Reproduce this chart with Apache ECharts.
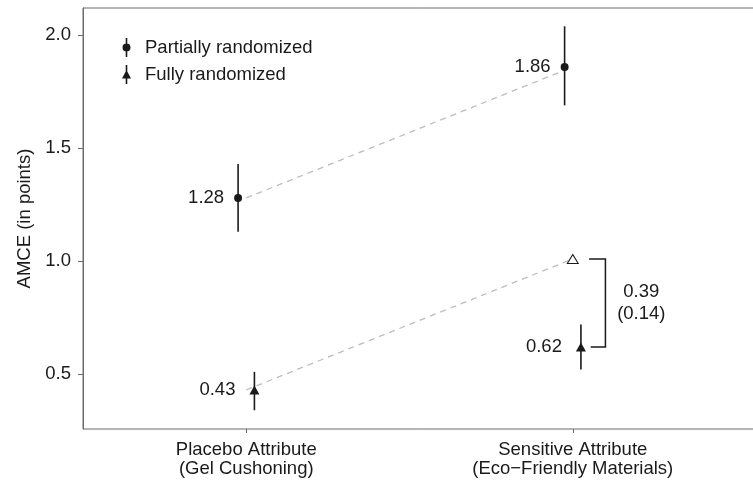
<!DOCTYPE html>
<html>
<head>
<meta charset="utf-8">
<script src="https://cdn.jsdelivr.net/npm/echarts@6/dist/echarts.min.js"></script>
<style>
  html, body { margin: 0; padding: 0; background: #fff; }
  #chart { width: 753px; height: 484px; }
</style>
</head>
<body>
<div id="chart"></div>
<script>
// data
var categories = ['Placebo Attribute\n(Gel Cushoning)', 'Sensitive Attribute\n(Eco\u2212Friendly Materials)'];
var partialEst = [1.28, 1.86];
var partialLo = [1.13, 1.69];
var partialHi = [1.43, 2.04];
var fullEst = [0.43, 0.62];
var fullLo = [0.34, 0.52];
var fullHi = [0.51, 0.72];
var counterfactual = [1.01];   // fully randomized + difference
var diffEst = '0.39';
var diffSE = '(0.14)';
var yTicks = [0.5, 1.0, 1.5, 2.0];

var FONT = "'Liberation Sans', Arial, Helvetica, sans-serif";
var FS = 18.5;
var INK = '#1a1a1a';
var AXIS = '#6b6b6b';
var dodge = 0.025;

var chartDom = document.getElementById('chart');
var myChart = echarts.init(chartDom);

function pts(est, shift) {
  return est.map(function (v, i) { return [i + 1 + shift, v]; });
}
function bars(est, lo, hi, shift) {
  return est.map(function (v, i) { return [i + 1 + shift, lo[i], hi[i]]; });
}

function errorBar(params, api) {
  var a = api.coord([api.value(0), api.value(1)]);
  var b = api.coord([api.value(0), api.value(2)]);
  return {
    type: 'line',
    shape: { x1: a[0], y1: a[1], x2: b[0], y2: b[1] },
    style: { stroke: INK, lineWidth: 1.6 }
  };
}

/* legend icons: marker with a vertical interval line */
var iconCircle = 'path://M3.7,0 H5.3 V19 H3.7 Z M0.5,9.5 A4,4 0 0 1 8.5,9.5 A4,4 0 0 1 0.5,9.5 Z';
var iconTri = 'path://M3.7,0 H5.3 V19 H3.7 Z M4.5,5 L9,13.5 L0,13.5 Z';

var labelLeft = function (dist) {
  return {
    show: true,
    position: 'left',
    distance: dist,
    color: INK,
    fontFamily: FONT,
    fontSize: FS,
    formatter: function (p) { return p.value[1].toFixed(2); }
  };
};

var option = {
  animation: false,
  textStyle: { fontFamily: FONT },
  grid: {
    left: 83, top: 8, width: 702, height: 421,
    outerBoundsMode: 'none',
    show: true, borderColor: AXIS, borderWidth: 1, backgroundColor: '#fff'
  },
  legend: {
    orient: 'vertical',
    left: 117, top: 33,
    itemWidth: 9, itemHeight: 19, itemGap: 8,
    selectedMode: false,
    textStyle: { fontFamily: FONT, fontSize: FS, color: INK, padding: [0, 0, 0, 9], lineHeight: 19 },
    data: [
      { name: 'Partially randomized', icon: iconCircle },
      { name: 'Fully randomized', icon: iconTri }
    ]
  },
  xAxis: {
    type: 'value',
    min: 0.5, max: 2.65,
    splitLine: { show: false },
    axisLine: { show: false },
    axisTick: { show: true, length: 4, customValues: [1, 2], lineStyle: { color: AXIS } },
    axisLabel: {
      customValues: [1, 2],
      margin: 11,
      color: INK, fontFamily: FONT, fontSize: FS, lineHeight: 19,
      formatter: function (v) { return categories[Math.round(v) - 1] || ''; }
    }
  },
  yAxis: {
    type: 'value',
    min: 0.257, max: 2.121,
    name: 'AMCE (in points)',
    nameLocation: 'middle',
    nameGap: 48,
    nameTextStyle: { color: INK, fontFamily: FONT, fontSize: FS },
    splitLine: { show: false },
    axisLine: { show: true, lineStyle: { color: AXIS } },
    axisTick: { show: true, length: 5, customValues: yTicks, lineStyle: { color: AXIS } },
    axisLabel: {
      customValues: yTicks,
      margin: 12,
      color: INK, fontFamily: FONT, fontSize: FS,
      formatter: function (v) { return v.toFixed(1); }
    }
  },
  series: [
    {
      name: 'link partial',
      type: 'line',
      data: pts(partialEst, 0),
      symbol: 'none',
      lineStyle: { color: '#bdbdbd', width: 1.3, type: [6, 5] },
      z: 1
    },
    {
      name: 'link full',
      type: 'line',
      data: [[1, fullEst[0]], [2, counterfactual[0]]],
      symbol: 'none',
      lineStyle: { color: '#bdbdbd', width: 1.3, type: [6, 5] },
      z: 1
    },
    {
      type: 'custom',
      renderItem: errorBar,
      data: bars(partialEst, partialLo, partialHi, -dodge),
      z: 2
    },
    {
      type: 'custom',
      renderItem: errorBar,
      data: bars(fullEst, fullLo, fullHi, dodge),
      z: 2
    },
    {
      name: 'Partially randomized',
      type: 'scatter',
      data: pts(partialEst, -dodge),
      symbol: 'circle',
      symbolSize: 8,
      itemStyle: { color: INK, opacity: 1 },
      label: labelLeft(10),
      z: 3
    },
    {
      name: 'Fully randomized',
      type: 'scatter',
      data: pts(fullEst, dodge),
      symbol: 'triangle',
      symbolSize: [10, 9],
      itemStyle: { color: INK, opacity: 1 },
      label: labelLeft(14),
      z: 3
    },
    {
      name: 'counterfactual',
      type: 'scatter',
      data: [[2, counterfactual[0]]],
      symbol: 'triangle',
      symbolSize: [11, 9],
      itemStyle: { color: '#fff', borderColor: INK, borderWidth: 1, opacity: 1 },
      z: 3
    },
    {
      // bracket showing the difference between the two triangles
      type: 'custom',
      data: [[2, fullEst[1], counterfactual[0]]],
      renderItem: function (params, api) {
        var x = api.value(0);
        var lo = api.value(1), hi = api.value(2);
        var a = api.coord([x + 0.05, hi]);
        var b = api.coord([x + 0.10, hi]);
        var c = api.coord([x + 0.10, lo]);
        var d = api.coord([x + 0.055, lo]);
        var t = api.coord([x + 0.21, (lo + hi) / 2]);
        return {
          type: 'group',
          children: [
            {
              type: 'polyline',
              shape: { points: [a, b, c, d] },
              style: { stroke: INK, lineWidth: 1.5, fill: null }
            },
            {
              type: 'text',
              x: t[0], y: t[1],
              style: {
                text: diffEst + '\n' + diffSE,
                fill: INK,
                font: FS + 'px ' + FONT,
                align: 'center',
                verticalAlign: 'middle',
                lineHeight: 22
              }
            }
          ]
        };
      },
      z: 2
    }
  ]
};

option && myChart.setOption(option);
</script>
</body>
</html>
